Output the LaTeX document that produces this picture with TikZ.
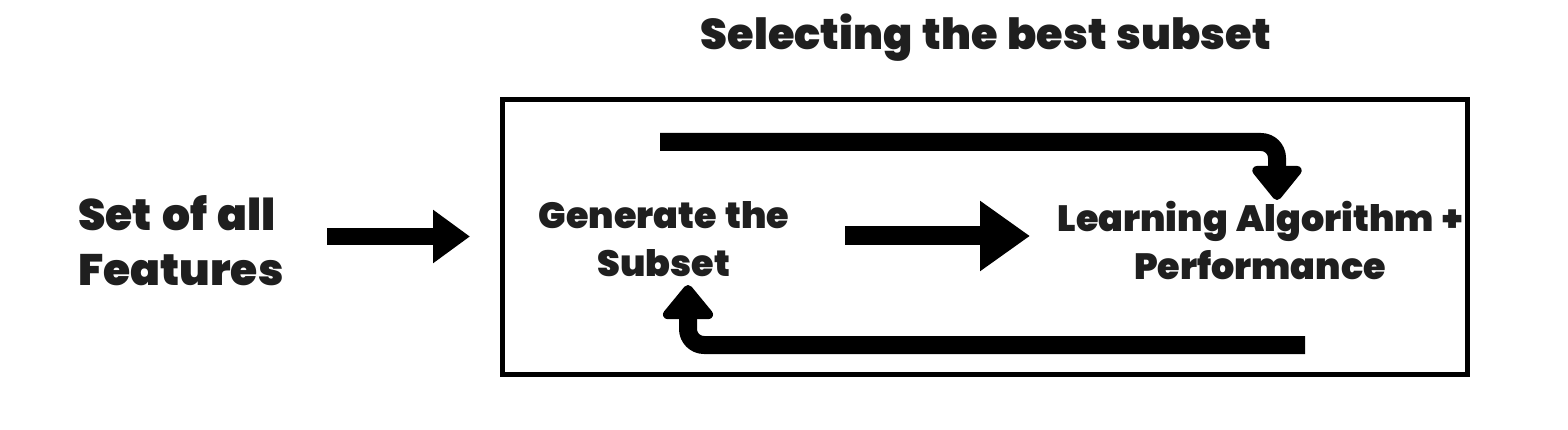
\documentclass[tikz,border=0pt]{standalone}
\usepackage{fontspec}
\IfFontExistsTF{Poppins Black}{\setmainfont{Poppins}[BoldFont={Poppins Black},WordSpace=1.35]}{\setmainfont{Poppins}}
\usetikzlibrary{arrows.meta}
\begin{document}
\begin{tikzpicture}[x=1pt,y=-1pt,
  lbl/.style={align=center, inner sep=0pt, text=black!88},
  fat/.style={line width=18pt, rounded corners=16pt, line join=round},
]
\useasboundingbox (0,0) rectangle (1568,430);
\node[lbl, font=\fontsize{43}{52}\selectfont\bfseries] (title) at (986,38) {Selecting the best subset};
\node[draw, line width=5pt, minimum width=964.5pt, minimum height=274.5pt, inner sep=0pt] (box) at (984.75,236.75) {};
\node[lbl, align=left, anchor=west, font=\fontsize{44}{55}\selectfont\bfseries] (all) at (78,241) {Set of all\\Features};
\node[lbl, font=\fontsize{36.5}{48}\selectfont\bfseries] (gen) at (664,239) {Generate the\\Subset};
\node[lbl, font=\fontsize{36.5}{48}\selectfont\bfseries] (learn) at (1260,240) {Learning Algorithm +\\Performance};
% arrow endpoints
\coordinate (a1s) at (327,236.5);
\coordinate (a1e) at (470,236.5);
\coordinate (a2s) at (845,236);
\coordinate (a2e) at (1030,236);
\coordinate (a3s) at (660,142);
\coordinate (a3e) at (1277,200);
\coordinate (a4s) at (1305,345);
\coordinate (a4e) at (688,285);
\draw[fat, line width=17pt, -{Triangle[length=37pt,width=51pt]}] (a1s) -- (a1e);
\draw[fat, line width=19pt, -{Triangle[length=50pt,width=67pt]}] (a2s) -- (a2e);
\draw[fat, -{Triangle[length=37pt,width=57pt,round]}] (a3s) -| (a3e);
\draw[fat, -{Triangle[length=37pt,width=58pt,round]}] (a4s) -| (a4e);
\end{tikzpicture}
\end{document}
